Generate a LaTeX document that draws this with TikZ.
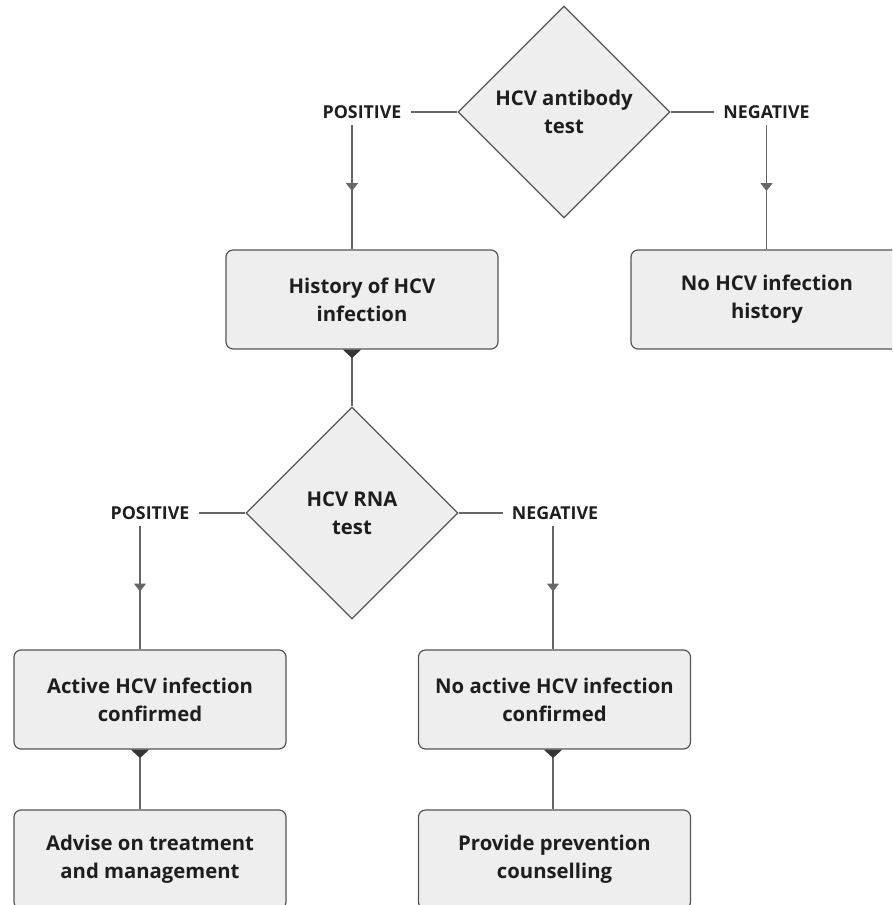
\documentclass[tikz,border=0pt]{standalone}
\usepackage{fontspec}
\setmainfont{Open Sans}
\usepackage{tikz}
\usepackage{xcolor}
\usetikzlibrary{shapes.geometric}
\usetikzlibrary{arrows.meta}
\usetikzlibrary{calc}
\usetikzlibrary{decorations.markings}
\definecolor{boxfill}{HTML}{EEEEEE}
\definecolor{edge}{HTML}{555555}
\definecolor{wire}{HTML}{666666}
\definecolor{ink}{HTML}{1E1E1E}
\tikzset{
  % A yes/no test
  decision/.style={
    diamond, aspect=1, draw=edge, fill=boxfill, line width=1.2pt,
    minimum width=212pt, minimum height=212pt, inner sep=0pt,
    align=center, text=ink, font=\fontsize{20.3}{28}\selectfont\bfseries},
  % An outcome box
  stepbox/.style={
    rectangle, rounded corners=7pt, draw=edge, fill=boxfill, line width=1.2pt,
    minimum width=272pt, minimum height=99pt, inner sep=4pt,
    align=center, text=ink, font=\fontsize{20.3}{28}\selectfont\bfseries},
  % POSITIVE / NEGATIVE
  answer/.style={
    text=ink, font=\fontsize{17.8}{20}\selectfont\bfseries,
    inner xsep=9pt, inner ysep=6.5pt, text height=13pt, text depth=0pt},
  % Connectors
  link/.style={draw=wire, line width=1.4pt},
  midtip/.style={postaction={decorate}, decoration={markings,
    mark=at position 0.53 with {\arrow[wire]{Triangle[width=12pt,length=8pt]}}}},
  starttip/.style={postaction={decorate}, decoration={markings,
    mark=at position 8.5pt with {\arrow[ink!90]{Triangle[width=18pt,length=8.5pt]}}}},
}

\begin{document}
\begin{tikzpicture}[x=1pt, y=-1pt]

  \clip (0,0) rectangle (892,905);
  \useasboundingbox (0,0) rectangle (892,905);

  % first test
  \node[decision] (abtest) at (564,112) {HCV antibody\\test};
  \node[answer] (pos1) at (362,112) {POSITIVE};
  \node[answer] (neg1) at (766.5,112) {NEGATIVE};
  \node[stepbox] (history) at (362,299.5) {History of HCV\\infection};
  \node[stepbox] (nohistory) at (767,299.5) {No HCV infection\\history};

  % second test
  \node[decision] (rnatest) at (352,513) {HCV RNA\\test};
  \node[answer] (pos2) at (150,513) {POSITIVE};
  \node[answer] (neg2) at (555,513) {NEGATIVE};
  \node[stepbox] (active) at (150,699.5) {Active HCV infection\\confirmed};
  \node[stepbox] (noactive) at (554.5,699.5) {No active HCV infection\\confirmed};

  % what to do next
  \node[stepbox] (advise) at (150,859.5) {Advise on treatment\\and management};
  \node[stepbox] (prevent) at (554.5,859.5) {Provide prevention\\counselling};

  \draw[link] (abtest.west) -- (pos1.east);
  \draw[link] (abtest.east) -- (neg1.west);
  \draw[link, midtip] ([xshift=-10pt]pos1.south) -- ([xshift=-10pt]pos1.south |- history.north);
  \draw[link, midtip] (neg1.south) -- (neg1.south |- nohistory.north);

  \draw[link, starttip] ([xshift=-10pt]history.south) -- (rnatest.north);

  \draw[link] (rnatest.west) -- (pos2.east);
  \draw[link] (rnatest.east) -- (neg2.west);
  \draw[link, midtip] ([xshift=-10pt]pos2.south) -- ([xshift=-10pt]pos2.south |- active.north);
  \draw[link, midtip] ([xshift=-2pt]neg2.south) -- ([xshift=-2pt]neg2.south |- noactive.north);

  \draw[link, starttip] ([xshift=-10pt]active.south) -- ([xshift=-10pt]advise.north);
  \draw[link, starttip] ([xshift=-1.5pt]noactive.south) -- ([xshift=-1.5pt]prevent.north);

\end{tikzpicture}
\end{document}
